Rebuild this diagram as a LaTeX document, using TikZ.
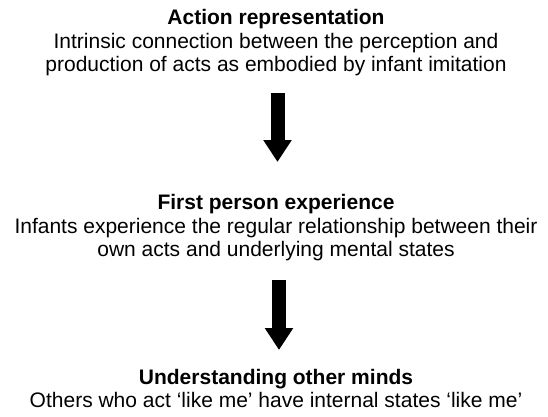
\documentclass[tikz,border=0pt]{standalone}
\usepackage{fontspec}
\setmainfont{Liberation Sans}
\usetikzlibrary{arrows.meta}
\begin{document}
\begin{tikzpicture}[x=1pt,y=-1pt,
  txt/.style={anchor=base,inner sep=0pt,font=\fontsize{21}{23}\selectfont},
  ttl/.style={txt,font=\fontsize{21}{23}\selectfont\bfseries},
  blockarrow/.style={line width=14pt,-{Triangle[width=27pt,length=22pt]}}]
\useasboundingbox (0,0) rectangle (548,417);
% block 1
\node[ttl] (t1) at (276,25) {Action representation};
\node[txt] (l1a) at (276,49) {Intrinsic connection between the perception and};
\node[txt] (l1b) at (276,72) {production of acts as embodied by infant imitation};
% block 2
\node[ttl] (t2) at (276,209) {First person experience};
\node[txt] (l2a) at (276,233) {Infants experience the regular relationship between their};
\node[txt] (l2b) at (276,256) {own acts and underlying mental states};
% block 3
\node[ttl] (t3) at (276,384) {Understanding other minds};
\node[txt] (l3a) at (276,407) {Others who act ‘like me’ have internal states ‘like me’};
% arrows
\coordinate (a1s) at (277.5,93);
\coordinate (a1e) at (277.5,162);
\coordinate (a2s) at (279,280);
\coordinate (a2e) at (279,350);
\draw[blockarrow] (a1s) -- (a1e);
\draw[blockarrow] (a2s) -- (a2e);
\end{tikzpicture}
\end{document}
